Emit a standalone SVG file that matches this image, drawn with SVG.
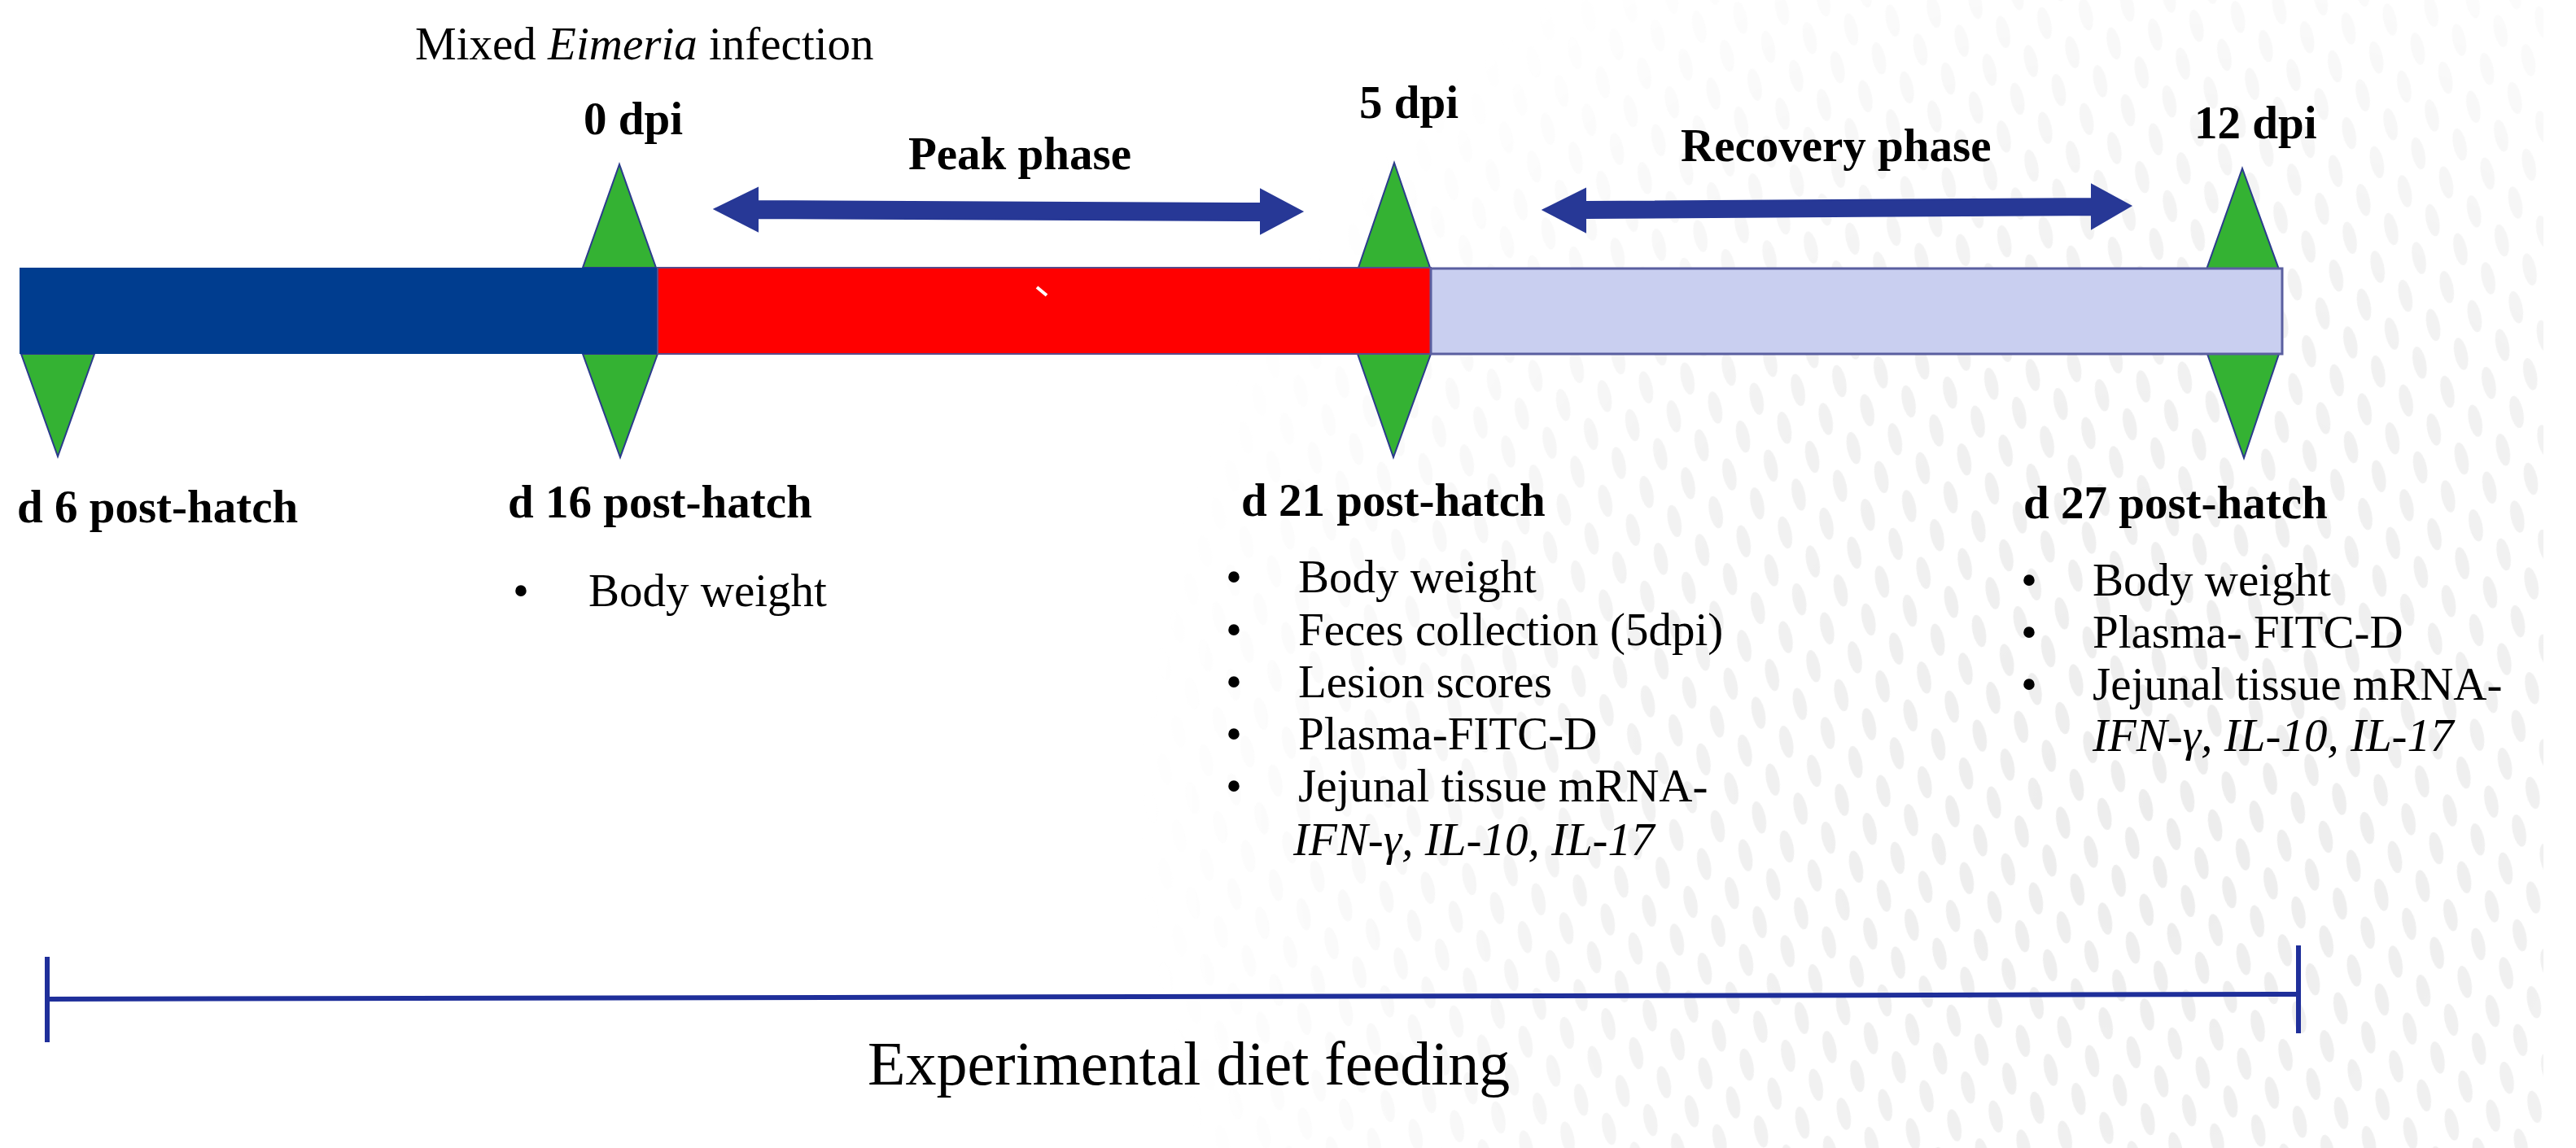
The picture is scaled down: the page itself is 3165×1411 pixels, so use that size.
<svg xmlns="http://www.w3.org/2000/svg" width="3165" height="1411" viewBox="0 0 3165 1411">
<style>
  .t{font-family:"Liberation Serif","Times New Roman",serif;font-size:57px;fill:#000}
  .b{font-weight:bold}
  .i{font-style:italic}
  .tri{fill:#34b233;stroke:#2b3b8c;stroke-width:2;stroke-linejoin:miter}
  .arr{fill:#273896;stroke:#273896;stroke-width:2}
  .feed{stroke:#1f2f9a;fill:none;stroke-width:6}
</style>
<defs>
  <pattern id="dots" x="0" y="0" width="52" height="84" patternUnits="userSpaceOnUse" patternTransform="rotate(-12 2650 1000)">
    <ellipse cx="13" cy="21" rx="8" ry="20" fill="#e9e9e9"/>
    <ellipse cx="39" cy="63" rx="8" ry="20" fill="#e9e9e9"/>
  </pattern>
  <radialGradient id="fade" gradientUnits="userSpaceOnUse" cx="2650" cy="1000" r="1250">
    <stop offset="0" stop-color="#fff" stop-opacity="0.85"/>
    <stop offset="0.55" stop-color="#fff" stop-opacity="0.6"/>
    <stop offset="1" stop-color="#fff" stop-opacity="0"/>
  </radialGradient>
  <mask id="m">
    <rect x="0" y="0" width="3125" height="1411" fill="url(#fade)"/>
  </mask>
</defs>
<rect width="3165" height="1411" fill="#fff"/>
<rect id="bg-pattern" x="0" y="0" width="3125" height="1411" fill="url(#dots)" mask="url(#m)"/>

<g id="phase-arrows">
  <polygon class="arr" points="878,257 931,231 931,247 1549,250 1549,233 1600,260 1549,287 1549,271 931,268 931,284"/>
  <polygon class="arr" points="1896,258 1948,232 1948,248 2570,244 2570,227 2618,253 2570,281 2570,264 1948,268 1948,285"/>
</g>

<g id="markers">
  <polygon class="tri" points="761,202 806,329 716,329"/>
  <polygon class="tri" points="716,435 808,435 762,562"/>
  <polygon class="tri" points="1713,200 1757,329 1669,329"/>
  <polygon class="tri" points="1668,435 1758,435 1712,562"/>
  <polygon class="tri" points="2755,207 2800,331 2711,331"/>
  <polygon class="tri" points="2712,435 2800,435 2757,563"/>
  <polygon class="tri" points="26,435 116,435 71,561"/>
</g>

<g id="timeline-bar">
  <rect x="24" y="329" width="784" height="106" fill="#003d8f"/>
  <rect x="808" y="329" width="950" height="106" fill="#ff0000" stroke="#5a4a8a" stroke-width="2"/>
  <rect x="1758" y="330" width="1046" height="105" fill="#c9cff0" stroke="#5a5fa0" stroke-width="3"/>
  <line x1="1274" y1="353" x2="1286" y2="363" stroke="#fff" stroke-width="4"/>
</g>

<g id="top-labels">
  <text class="t" x="510" y="73">Mixed <tspan class="i">Eimeria</tspan> infection</text>
  <text class="t b" x="717" y="165">0 dpi</text>
  <text class="t b" x="1116" y="208">Peak phase</text>
  <text class="t b" x="1670" y="145">5 dpi</text>
  <text class="t b" x="2065" y="198">Recovery phase</text>
  <text class="t b" x="2696" y="170">12 dpi</text>
</g>

<g id="d6">
  <text class="t b" x="21" y="642">d 6 post-hatch</text>
</g>

<g id="d16">
  <text class="t b" x="624" y="636">d 16 post-hatch</text>
  <text class="t" x="640" y="745" text-anchor="middle">•</text>
  <text class="t" x="723" y="745">Body weight</text>
</g>

<g id="d21">
  <text class="t b" x="1525" y="634">d 21 post-hatch</text>
  <text class="t" x="1516" y="728" text-anchor="middle">•</text>
  <text class="t" x="1595" y="728">Body weight</text>
  <text class="t" x="1516" y="793" text-anchor="middle">•</text>
  <text class="t" x="1595" y="793">Feces collection (5dpi)</text>
  <text class="t" x="1516" y="857" text-anchor="middle">•</text>
  <text class="t" x="1595" y="857">Lesion scores</text>
  <text class="t" x="1516" y="921" text-anchor="middle">•</text>
  <text class="t" x="1595" y="921">Plasma-FITC-D</text>
  <text class="t" x="1516" y="985" text-anchor="middle">•</text>
  <text class="t" x="1595" y="985">Jejunal tissue mRNA-</text>
  <text class="t i" x="1589" y="1051">IFN-γ, IL-10, IL-17</text>
</g>

<g id="d27">
  <text class="t b" x="2486" y="637">d 27 post-hatch</text>
  <text class="t" x="2493" y="732" text-anchor="middle">•</text>
  <text class="t" x="2571" y="732">Body weight</text>
  <text class="t" x="2493" y="796" text-anchor="middle">•</text>
  <text class="t" x="2571" y="796">Plasma- FITC-D</text>
  <text class="t" x="2493" y="860" text-anchor="middle">•</text>
  <text class="t" x="2571" y="860">Jejunal tissue mRNA-</text>
  <text class="t i" x="2571" y="923">IFN-γ, IL-10, IL-17</text>
</g>

<g id="connectors">
  <line class="feed" x1="58" y1="1228" x2="2824" y2="1222"/>
  <line class="feed" x1="58" y1="1176" x2="58" y2="1281" stroke-width="5"/>
  <line class="feed" x1="2824" y1="1162" x2="2824" y2="1270" stroke-width="5"/>
</g>

<g id="feeding-label">
  <text class="t" x="1066" y="1333" style="font-size:76px">Experimental diet feeding</text>
</g>
</svg>
